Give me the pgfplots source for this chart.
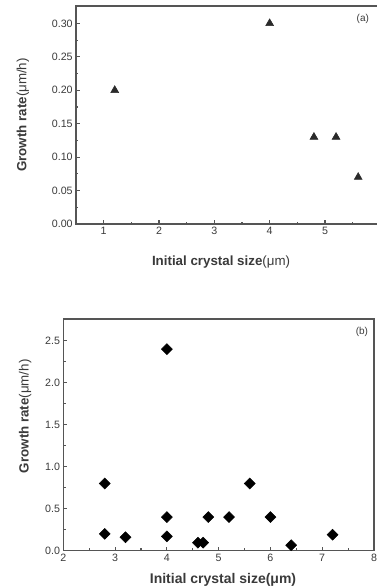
\documentclass[border=0pt]{standalone}
\usepackage{pgfplots}
\pgfplotsset{compat=1.18}
\usepackage{fontspec}
\setmainfont{Liberation Sans}
\definecolor{axgray}{HTML}{555555}
\definecolor{txtgray}{HTML}{3A3A3A}
\definecolor{mk}{HTML}{2A2A2A}
\pgfplotsset{
  myaxis/.style={
    scale only axis,
    axis line style={axgray, line width=1.1pt},
    tick style={axgray, line width=0.8pt},
    tick align=inside,
    major tick length=3pt,
    minor tick length=1.8pt,
    minor x tick num=1,
    minor y tick num=1,
    xtick pos=bottom, ytick pos=left,
    /pgf/number format/assume math mode=true,
    tick label style={font=\fontsize{8}{9}\selectfont, text=txtgray},
    every axis y label/.style={rotate=90, anchor=center, font=\fontsize{10}{12}\selectfont\bfseries, text=txtgray},
    every axis x label/.style={anchor=center, font=\fontsize{10}{12}\selectfont\bfseries, text=txtgray},
    xticklabel style={yshift=1pt},
    yticklabel style={xshift=1pt},
  }
}
\begin{document}
\begin{tikzpicture}
\useasboundingbox (0,0) rectangle (282.75pt,439.5pt);
% (a)
\begin{axis}[myaxis,
  at={(57pt,271.5pt)}, anchor=origin,
  width=249pt, height=163.5pt,
  xmin=0.5, xmax=6.5, ymin=0, ymax=0.326,
  xtick={1,2,3,4,5,6},
  ytick={0,0.05,0.1,0.15,0.2,0.25,0.3},
  yticklabel style={/pgf/number format/.cd, fixed, fixed zerofill, precision=2},
  xlabel={Initial crystal size\textmd{(μm)}},
  ylabel={Growth rate\textmd{(μm/h)}},
  xlabel style={at={(axis description cs:0.437,-0.174)}},
  ylabel style={at={(axis description cs:-0.16,0.5)}},
]
\addplot[only marks, mark=triangle*, mark size=3.4pt, mark options={fill=mk, draw=mk}]
  coordinates {(1.2,0.20) (4.0,0.30) (4.8,0.13) (5.2,0.13) (5.6,0.07)};
\node[font=\fontsize{7.5}{9}\selectfont, text=txtgray] at (rel axis cs:0.864,0.94) {(a)};
\end{axis}
% (b)
\begin{axis}[myaxis,
  at={(47.5pt,26.5pt)}, anchor=origin,
  width=233pt, height=173.8pt,
  xmin=2, xmax=8, ymin=0, ymax=2.76,
  xtick={2,3,4,5,6,7,8},
  ytick={0,0.5,1,1.5,2,2.5},
  yticklabel style={/pgf/number format/.cd, fixed, fixed zerofill, precision=1},
  xlabel={Initial crystal size(μm)},
  ylabel={Growth rate\textmd{(μm/h)}},
  xlabel style={at={(axis description cs:0.514,-0.126)}, font=\fontsize{10.5}{12}\selectfont\bfseries},
  ylabel style={at={(axis description cs:-0.123,0.58)}},
]
\addplot[only marks, mark=square*, mark size=2.9pt, mark options={rotate=45, fill=black, draw=black}]
  coordinates {(2.8,0.8) (2.8,0.2) (3.2,0.16) (4.0,2.4) (4.0,0.4) (4.0,0.17)
               (4.6,0.095) (4.7,0.095) (4.8,0.4) (5.2,0.4) (5.6,0.8) (6.0,0.4)
               (6.4,0.065) (7.2,0.19)};
\node[font=\fontsize{7.5}{9}\selectfont, text=txtgray] at (rel axis cs:0.961,0.944) {(b)};
\end{axis}
\end{tikzpicture}
\end{document}
